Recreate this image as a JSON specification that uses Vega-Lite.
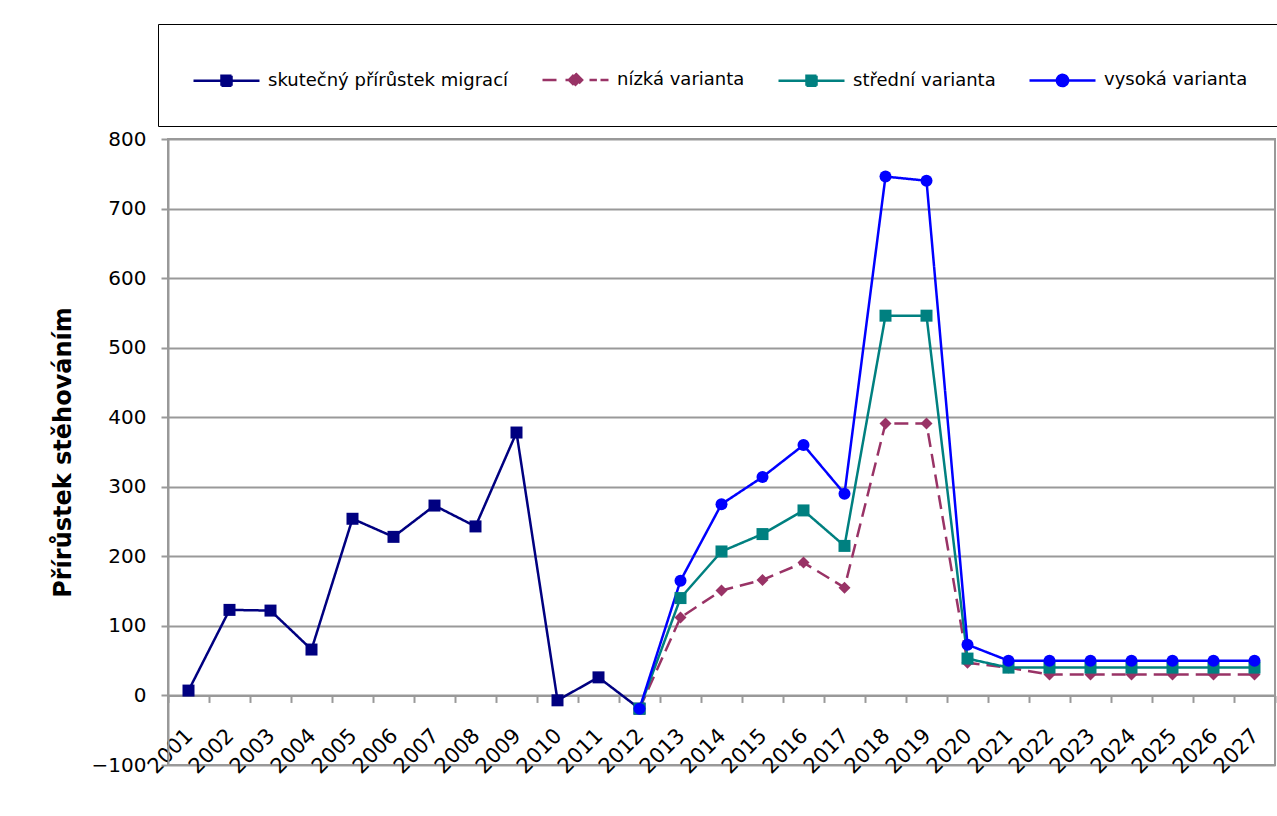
{
  "$schema": "https://vega.github.io/schema/vega-lite/v6.json",
  "autosize": "none",
  "padding": {"left": 168, "top": 139, "right": 2, "bottom": 51},
  "width": 1107,
  "height": 626,
  "background": "white",
  "config": {
    "view": {"stroke": "#999999", "strokeWidth": 2},
    "font": "DejaVu Sans",
    "axis": {"labelFont": "DejaVu Sans", "titleFont": "DejaVu Sans", "labelColor": "black", "titleColor": "black"},
    "legend": {"labelFont": "DejaVu Sans"}
  },
  "data": {"values": [
    {"rok": "2001", "rada": "skutečný přírůstek migrací", "hodnota": 7},
    {"rok": "2002", "rada": "skutečný přírůstek migrací", "hodnota": 123},
    {"rok": "2003", "rada": "skutečný přírůstek migrací", "hodnota": 122},
    {"rok": "2004", "rada": "skutečný přírůstek migrací", "hodnota": 66},
    {"rok": "2005", "rada": "skutečný přírůstek migrací", "hodnota": 254},
    {"rok": "2006", "rada": "skutečný přírůstek migrací", "hodnota": 228},
    {"rok": "2007", "rada": "skutečný přírůstek migrací", "hodnota": 273},
    {"rok": "2008", "rada": "skutečný přírůstek migrací", "hodnota": 243},
    {"rok": "2009", "rada": "skutečný přírůstek migrací", "hodnota": 378},
    {"rok": "2010", "rada": "skutečný přírůstek migrací", "hodnota": -7},
    {"rok": "2011", "rada": "skutečný přírůstek migrací", "hodnota": 26},
    {"rok": "2012", "rada": "skutečný přírůstek migrací", "hodnota": -19},
    {"rok": "2012", "rada": "nízká varianta", "hodnota": -19},
    {"rok": "2013", "rada": "nízká varianta", "hodnota": 112},
    {"rok": "2014", "rada": "nízká varianta", "hodnota": 151},
    {"rok": "2015", "rada": "nízká varianta", "hodnota": 166},
    {"rok": "2016", "rada": "nízká varianta", "hodnota": 191},
    {"rok": "2017", "rada": "nízká varianta", "hodnota": 155},
    {"rok": "2018", "rada": "nízká varianta", "hodnota": 391},
    {"rok": "2019", "rada": "nízká varianta", "hodnota": 391},
    {"rok": "2020", "rada": "nízká varianta", "hodnota": 47},
    {"rok": "2021", "rada": "nízká varianta", "hodnota": 40},
    {"rok": "2022", "rada": "nízká varianta", "hodnota": 30},
    {"rok": "2023", "rada": "nízká varianta", "hodnota": 30},
    {"rok": "2024", "rada": "nízká varianta", "hodnota": 30},
    {"rok": "2025", "rada": "nízká varianta", "hodnota": 30},
    {"rok": "2026", "rada": "nízká varianta", "hodnota": 30},
    {"rok": "2027", "rada": "nízká varianta", "hodnota": 30},
    {"rok": "2012", "rada": "střední varianta", "hodnota": -19},
    {"rok": "2013", "rada": "střední varianta", "hodnota": 140},
    {"rok": "2014", "rada": "střední varianta", "hodnota": 207},
    {"rok": "2015", "rada": "střední varianta", "hodnota": 232},
    {"rok": "2016", "rada": "střední varianta", "hodnota": 266},
    {"rok": "2017", "rada": "střední varianta", "hodnota": 215},
    {"rok": "2018", "rada": "střední varianta", "hodnota": 546},
    {"rok": "2019", "rada": "střední varianta", "hodnota": 546},
    {"rok": "2020", "rada": "střední varianta", "hodnota": 53},
    {"rok": "2021", "rada": "střední varianta", "hodnota": 40},
    {"rok": "2022", "rada": "střední varianta", "hodnota": 40},
    {"rok": "2023", "rada": "střední varianta", "hodnota": 40},
    {"rok": "2024", "rada": "střední varianta", "hodnota": 40},
    {"rok": "2025", "rada": "střední varianta", "hodnota": 40},
    {"rok": "2026", "rada": "střední varianta", "hodnota": 40},
    {"rok": "2027", "rada": "střední varianta", "hodnota": 40},
    {"rok": "2012", "rada": "vysoká varianta", "hodnota": -19},
    {"rok": "2013", "rada": "vysoká varianta", "hodnota": 165},
    {"rok": "2014", "rada": "vysoká varianta", "hodnota": 275},
    {"rok": "2015", "rada": "vysoká varianta", "hodnota": 314},
    {"rok": "2016", "rada": "vysoká varianta", "hodnota": 360},
    {"rok": "2017", "rada": "vysoká varianta", "hodnota": 290},
    {"rok": "2018", "rada": "vysoká varianta", "hodnota": 746},
    {"rok": "2019", "rada": "vysoká varianta", "hodnota": 740},
    {"rok": "2020", "rada": "vysoká varianta", "hodnota": 73},
    {"rok": "2021", "rada": "vysoká varianta", "hodnota": 50},
    {"rok": "2022", "rada": "vysoká varianta", "hodnota": 50},
    {"rok": "2023", "rada": "vysoká varianta", "hodnota": 50},
    {"rok": "2024", "rada": "vysoká varianta", "hodnota": 50},
    {"rok": "2025", "rada": "vysoká varianta", "hodnota": 50},
    {"rok": "2026", "rada": "vysoká varianta", "hodnota": 50},
    {"rok": "2027", "rada": "vysoká varianta", "hodnota": 50}
  ]},
  "encoding": {
    "x": {
      "field": "rok", "type": "ordinal", "bandPosition": 0.5,
      "scale": {"type": "band", "paddingInner": 0, "paddingOuter": 0},
      "axis": {
        "title": null, "offset": -69.56, "tickBand": "extent", "grid": false,
        "domainColor": "#999999", "domainWidth": 2, "tickColor": "#999999", "tickWidth": 2, "tickSize": 7,
        "labelAngle": -45, "labelAlign": "right", "labelBaseline": "top", "labelFontSize": 21,
        "labelPadding": 22, "labelOffset": -7, "labelOverlap": false, "labelBound": false, "labelFlush": false
      }
    },
    "y": {
      "field": "hodnota", "type": "quantitative",
      "scale": {"domain": [-100, 800], "nice": false, "zero": false},
      "axis": {
        "title": "Přírůstek stěhováním", "titleFontSize": 24, "titleFontWeight": "bold", "titlePadding": 16,
        "values": [-100, 0, 100, 200, 300, 400, 500, 600, 700, 800],
        "grid": true, "gridColor": "#999999", "gridWidth": 2,
        "domainColor": "#999999", "domainWidth": 2, "tickColor": "#999999", "tickWidth": 2, "tickSize": 7,
        "labelFontSize": 20, "labelPadding": 15
      }
    }
  },
  "layer": [
    {
      "mark": {"type": "line", "strokeWidth": 2.5},
      "encoding": {
        "color": {
          "field": "rada", "type": "nominal",
          "scale": {
            "domain": ["skutečný přírůstek migrací", "nízká varianta", "střední varianta", "vysoká varianta"],
            "range": ["#000080", "#993366", "#008080", "#0000FF"]
          },
          "legend": {
            "title": null, "orient": "none", "direction": "horizontal", "legendX": -10, "legendY": -115,
            "strokeColor": "black", "fillColor": "white", "padding": 34,
            "labelFontSize": 18, "labelColor": "black", "labelOffset": 20, "symbolOffset": 13, "columnPadding": 28,
            "symbolSize": 1600, "symbolStrokeWidth": 2.5, "labelLimit": 400,
            "encode": {
              "symbols": {
                "update": {
                  "shape": {"signal": "datum.value === 'skutečný přírůstek migrací' || datum.value === 'střední varianta' ? 'M-1.65,0H1.65M-0.25,-0.25H0.25V0.25H-0.25Z' : datum.value === 'nízká varianta' ? 'M-1.65,0H-0.9M-0.5,0H0.5M0.7,0H1.07M1.25,0H1.65M0,-0.33L0.33,0L0,0.33L-0.33,0Z' : 'M-1.65,0H1.65M0.28,0A0.28,0.28 0 1,1 -0.28,0A0.28,0.28 0 1,1 0.28,0Z'"},
                  "fill": {"signal": "scale('color', datum.value)"},
                  "stroke": {"signal": "scale('color', datum.value)"},
                  "strokeWidth": {"value": 2.5},
                  "strokeDash": {"value": [1, 0]},
                  "opacity": {"value": 1},
                  "size": {"value": 1600}
                }
              }
            }
          }
        },
        "strokeDash": {
          "field": "rada", "type": "nominal", "legend": null,
          "scale": {
            "domain": ["skutečný přírůstek migrací", "nízká varianta", "střední varianta", "vysoká varianta"],
            "range": [[1, 0], [14, 7], [1, 0], [1, 0]]
          }
        }
      }
    },
    {
      "transform": [{"filter": "datum.rada === 'skutečný přírůstek migrací'"}],
      "mark": {"type": "point", "filled": true, "opacity": 1, "size": 144, "shape": "square", "color": "#000080"}
    },
    {
      "transform": [{"filter": "datum.rada === 'nízká varianta'"}],
      "mark": {"type": "point", "filled": true, "opacity": 1, "size": 144, "shape": "diamond", "color": "#993366"}
    },
    {
      "transform": [{"filter": "datum.rada === 'střední varianta'"}],
      "mark": {"type": "point", "filled": true, "opacity": 1, "size": 144, "shape": "square", "color": "#008080"}
    },
    {
      "transform": [{"filter": "datum.rada === 'vysoká varianta'"}],
      "mark": {"type": "point", "filled": true, "opacity": 1, "size": 144, "shape": "circle", "color": "#0000FF"}
    }
  ]
}
